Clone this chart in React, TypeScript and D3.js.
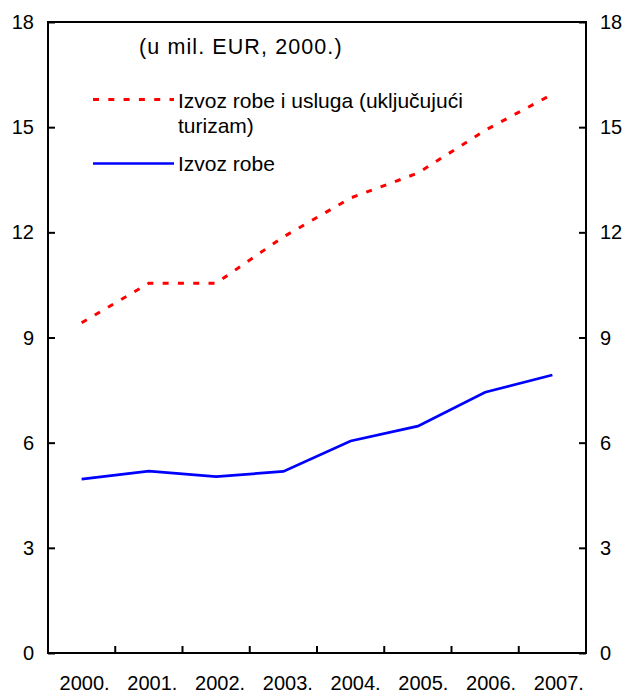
import React, { useRef, useEffect } from "react";
import * as d3 from "d3";

const years = ["2000.", "2001.", "2002.", "2003.", "2004.", "2005.", "2006.", "2007."];
const goodsServices = [9.42, 10.55, 10.55, 11.87, 12.98, 13.69, 14.91, 15.94];
const goods = [4.96, 5.19, 5.03, 5.18, 6.05, 6.47, 7.44, 7.93];
const yTicks = [0, 3, 6, 9, 12, 15, 18];

const App = () => {
  const svgRef = useRef<SVGSVGElement>(null);

  useEffect(() => {
    const width = 627;
    const height = 693;
    const margin = { left: 48, right: 41, top: 22, bottom: 40 };
    const font = "'Liberation Sans', Arial, sans-serif";

    const svg = d3.select(svgRef.current);
    svg.selectAll("*").remove();
    svg.attr("width", width).attr("height", height).style("font-family", font);

    const x = d3
      .scaleBand()
      .domain(years)
      .range([margin.left, width - margin.right]);
    const y = d3
      .scaleLinear()
      .domain([0, 18])
      .range([height - margin.bottom, margin.top]);

    const cx = (i: number) => (x(years[i]) as number) + x.bandwidth() / 2;

    // frame
    svg
      .append("rect")
      .attr("x", margin.left)
      .attr("y", margin.top)
      .attr("width", width - margin.left - margin.right)
      .attr("height", height - margin.top - margin.bottom)
      .attr("fill", "none")
      .attr("stroke", "#000")
      .attr("stroke-width", 2);

    // y axes (ticks point inward)
    const left = svg.append("g").attr("transform", `translate(${margin.left},0)`);
    left.call(d3.axisRight(y).tickValues(yTicks).tickSize(7).tickFormat(() => ""));
    const right = svg.append("g").attr("transform", `translate(${width - margin.right},0)`);
    right.call(d3.axisLeft(y).tickValues(yTicks).tickSize(7).tickFormat(() => ""));
    [left, right].forEach((g) => {
      g.select(".domain").remove();
      g.selectAll("line").attr("stroke", "#000").attr("stroke-width", 2);
    });

    svg
      .append("g")
      .selectAll("text")
      .data(yTicks)
      .join("text")
      .attr("x", margin.left - 14)
      .attr("y", (d) => y(d))
      .attr("dy", "0.35em")
      .attr("text-anchor", "end")
      .attr("font-size", 20)
      .text((d) => d);

    svg
      .append("g")
      .selectAll("text")
      .data(yTicks)
      .join("text")
      .attr("x", width - margin.right + 14)
      .attr("y", (d) => y(d))
      .attr("dy", "0.35em")
      .attr("text-anchor", "start")
      .attr("font-size", 20)
      .text((d) => d);

    // x ticks between categories
    const bottom = svg.append("g").attr("transform", `translate(0,${height - margin.bottom})`);
    bottom
      .selectAll("line")
      .data(years.slice(1))
      .join("line")
      .attr("x1", (d) => x(d) as number)
      .attr("x2", (d) => x(d) as number)
      .attr("y1", 0)
      .attr("y2", -7)
      .attr("stroke", "#000")
      .attr("stroke-width", 2);
    bottom
      .selectAll("text")
      .data(years)
      .join("text")
      .attr("x", (d, i) => cx(i) + 3 + i * 0.5)
      .attr("y", 37)
      .attr("text-anchor", "middle")
      .attr("font-size", 20)
      .text((d) => d);

    const line = d3
      .line<number>()
      .x((d, i) => cx(i))
      .y((d) => y(d));

    svg
      .append("path")
      .datum(goodsServices)
      .attr("d", line)
      .attr("fill", "none")
      .attr("stroke", "#ff0000")
      .attr("stroke-width", 3)
      .attr("stroke-dasharray", "6,9.3");

    svg
      .append("path")
      .datum(goods)
      .attr("d", line)
      .attr("fill", "none")
      .attr("stroke", "#0000ff")
      .attr("stroke-width", 2.7);

    // title
    svg
      .append("text")
      .attr("x", 139)
      .attr("y", 54)
      .attr("font-size", 21.5)
      .attr("letter-spacing", 1.1)
      .text("(u mil. EUR, 2000.)");

    // legend
    const legend = svg.append("g");
    legend
      .append("line")
      .attr("x1", 93)
      .attr("x2", 174)
      .attr("y1", 99.5)
      .attr("y2", 99.5)
      .attr("stroke", "#ff0000")
      .attr("stroke-width", 3)
      .attr("stroke-dasharray", "6,9.3");
    legend
      .append("text")
      .attr("x", 178)
      .attr("y", 107.5)
      .attr("font-size", 21)
      .text("Izvoz robe i usluga (uključujući");
    legend
      .append("text")
      .attr("x", 178)
      .attr("y", 133)
      .attr("font-size", 21)
      .text("turizam)");
    legend
      .append("line")
      .attr("x1", 93)
      .attr("x2", 174)
      .attr("y1", 163.5)
      .attr("y2", 163.5)
      .attr("stroke", "#0000ff")
      .attr("stroke-width", 2.7);
    legend
      .append("text")
      .attr("x", 178)
      .attr("y", 171)
      .attr("font-size", 21)
      .text("Izvoz robe");
  }, []);

  return (
    <svg
      ref={svgRef}
      style={{ position: "absolute", left: 0, top: 0, background: "#fff" }}
    ></svg>
  );
};

export default App;
